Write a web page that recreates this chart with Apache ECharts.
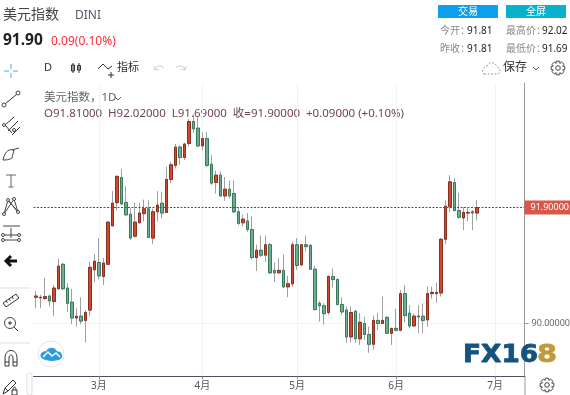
<!DOCTYPE html>
<html><head><meta charset="utf-8">
<style>html,body{margin:0;padding:0;background:#fff}#c{width:570px;height:395px}</style>
<script src="https://cdn.jsdelivr.net/npm/echarts@6/dist/echarts.min.js"></script>
</head><body><div id="c"></div>
<script>
const opens=[90.43,90.42,90.41,90.45,90.36,90.57,90.97,90.58,90.35,90.09,90.12,90.05,90.22,90.88,91.00,90.77,90.97,91.60,91.98,92.39,91.98,91.79,91.43,91.65,91.80,91.88,91.40,91.83,91.97,91.82,92.36,92.59,92.89,92.72,92.95,93.31,93.20,92.91,93.03,92.61,92.31,92.43,92.09,92.20,92.13,91.83,91.65,91.68,91.54,91.08,91.20,91.12,91.29,90.87,90.83,90.87,90.60,90.65,91.29,90.96,91.29,91.28,90.89,90.33,90.29,90.18,90.77,90.72,90.31,90.22,89.78,90.20,89.75,90.00,89.82,89.66,90.05,90.00,90.10,89.84,89.92,89.89,90.49,90.17,89.96,90.11,90.12,90.06,90.49,90.49,90.50,91.38,91.92,92.31,91.85,91.73,91.81,91.83,91.81];
const closes=[90.45,90.43,90.44,90.37,90.58,90.94,90.57,90.33,90.09,90.12,90.04,90.18,90.92,91.02,90.78,90.99,91.66,91.97,92.41,91.96,91.78,91.40,91.66,91.81,91.88,91.41,91.83,91.94,91.81,92.36,92.60,92.89,92.72,92.94,93.31,93.19,92.91,93.03,92.59,92.30,92.43,92.09,92.20,92.09,91.83,91.64,91.71,91.54,91.08,91.20,91.12,91.29,90.83,90.83,90.87,90.60,90.65,91.29,90.95,91.29,91.26,90.89,90.23,90.29,90.16,90.77,90.72,90.31,90.19,89.78,90.18,89.75,90.02,89.82,89.66,90.05,90.00,90.05,89.84,89.92,89.89,90.49,90.13,89.96,90.12,90.12,90.05,90.49,90.51,90.51,91.38,91.92,92.32,91.85,91.74,91.82,91.82,91.81,91.90];
const lows=[90.25,90.25,90.38,90.28,90.12,90.56,90.55,90.19,89.99,89.95,89.99,89.69,90.12,90.68,90.72,90.63,90.96,91.59,91.85,91.94,91.77,91.37,91.41,91.64,91.67,91.40,91.30,91.67,91.72,91.81,92.30,92.54,92.60,92.68,92.90,93.12,92.89,92.84,92.56,92.27,92.13,92.08,92.01,92.05,91.81,91.61,91.59,91.50,91.05,90.86,91.09,91.01,90.81,90.68,90.82,90.58,90.43,90.60,90.88,90.94,91.18,90.88,90.21,90.03,89.98,90.14,90.59,90.30,90.14,89.68,89.69,89.68,89.65,89.73,89.52,89.57,89.89,89.99,89.83,89.65,89.87,89.87,90.02,89.92,89.95,89.84,89.84,89.95,90.41,90.34,90.44,91.30,91.83,91.84,91.72,91.53,91.67,91.53,91.69];
const highs=[90.53,90.47,90.75,90.47,90.63,91.06,90.99,90.66,90.57,90.25,90.43,90.22,91.01,91.14,91.40,91.07,91.68,92.17,92.43,92.53,92.25,91.89,91.98,91.98,92.03,92.02,91.88,92.17,92.16,92.57,92.65,92.94,92.92,92.96,93.35,93.42,93.38,93.13,93.14,92.76,92.50,92.49,92.40,92.34,92.34,91.91,91.79,91.81,91.76,91.29,91.44,91.44,91.32,91.00,91.07,91.13,90.78,91.34,91.40,91.30,91.44,91.30,90.95,90.37,90.33,90.79,90.90,90.74,90.43,90.28,90.28,90.22,90.17,90.11,89.95,90.13,90.17,90.44,90.12,89.93,90.24,90.55,90.63,90.30,90.16,90.30,90.33,90.61,90.60,90.67,91.40,92.02,92.43,92.38,92.14,91.91,91.90,91.86,92.02];
const monthLabels=['3月','4月','5月','6月','7月'];
const monthIndex=[14,37,58,80,102];
const slots=109;
const lastPrice=91.9;
const priceTicks=[90];
const categories=Array.from({length:slots},(_,i)=>{const k=monthIndex.indexOf(i);return k>=0?monthLabels[k]:'d'+i;});
const isMonth=i=>monthIndex.indexOf(i)>=0;
const wicks=opens.map((o,i)=>[o,closes[i],lows[i],highs[i]]);
const bodies=opens.map((o,i)=>[o,closes[i],Math.min(o,closes[i]),Math.max(o,closes[i])]);

const FF='"Noto Sans","Noto Sans CJK SC",sans-serif';
const t=(text,x,y,size,fill,weight,align)=>({type:'text',x,y,silent:true,style:{text,fontSize:size,fill,fontWeight:weight||'normal',fontFamily:FF,textVerticalAlign:'middle',textAlign:align||'left'}});
let shapeId=0;
const p=(d,stroke,w,fill,dash)=>{const name='icon'+(shapeId++);echarts.graphic.registerShape(name,echarts.graphic.extendPath(d));
 return {type:name,silent:true,shape:{},style:{stroke:stroke||'#444',lineWidth:w||1,fill:fill||'none',lineDash:dash||null}};};
const r=(x,y,w,h,fill)=>({type:'rect',silent:true,shape:{x,y,width:w,height:h},style:{fill}});
const c=(cx,cy,rr,fill,stroke)=>({type:'circle',silent:true,shape:{cx,cy,r:rr},style:{fill:fill||'none',stroke:stroke||'#444',lineWidth:1}});
const gearAt=(x,y)=>{const o=[];for(let a=0;a<8;a++){const A=a*Math.PI/4,B=A+0.24,C=A-0.24;
 o.push((a?'L':'M')+(x+7*Math.cos(C)).toFixed(1)+' '+(y+7*Math.sin(C)).toFixed(1)+'L'+(x+7*Math.cos(B)).toFixed(1)+' '+(y+7*Math.sin(B)).toFixed(1)+'L'+(x+5*Math.cos(A+0.39)).toFixed(1)+' '+(y+5*Math.sin(A+0.39)).toFixed(1));}
 return [p(o.join('')+'Z','#444',1),c(x,y,2.3)];};
const logo=(text,x,sx,fill)=>({type:'text',x,y:356,scaleX:sx,silent:true,z:20,style:{text,fontSize:24,fontWeight:'bold',fill,stroke:fill,lineWidth:0.8,fontFamily:'"DejaVu Sans",sans-serif',textVerticalAlign:'middle'}});

const graphics=[
 t('美元指数',3,15,14,'#444'),t('DINI',75,16,12,'#556'),
 t('91.90',3,41,15.5,'#222','bold'),t('0.09(0.10%)',51,42,12,'#ff2a3c'),
 r(438,5,60,13,'#0b9fee'),r(506,5,60,13,'#08b2cf'),
 t('交易',468,12,10,'#fff','normal','center'),t('全屏',536,12,10,'#fff','normal','center'),
 t('今开：',440,31,10,'#888'),t('91.81',467,31,10,'#222'),t('最高价：',506,31,10,'#888'),t('92.02',542,31,10,'#222'),
 t('昨收：',440,49,10,'#888'),t('91.81',467,49,10,'#222'),t('最低价：',506,49,10,'#888'),t('91.69',542,49,10,'#222'),
 t('D',44,68,11,'#333'),
 p('M73 63V73M71.5 65H74.5V71H71.5ZM79 63V73M77.5 65.5H80.5V70H77.5Z','#333',1),
 p('M98 69L103 64L108 69L112 66M108 75H114M111 72V78','#333',1),
 t('指标',117,68,11,'#333'),
 p('M155 69C157 65 162 65 164 68M154 66L155 70L159 69','#ccc',1),p('M185 69C183 65 178 65 176 68M186 66L185 70L181 69','#ccc',1),
 p('M484 74H497C501 74 501 68 497 67C496 62 489 61 487 66C483 66 481 73 484 74Z','#999',1,'none',[2,1.5]),
 t('保存',503,68,12,'#333'),p('M533 67L536 70L539 67','#555',1),...gearAt(558,68),
 // toolbar
 p('M11 64V69M11 73V78M4 71H9M13 71H18','#8cc8f0',1.5),
 c(4,105,2,'#fff'),c(18,93,2,'#fff'),p('M5.5 103.5L16.5 94.5','#333',1),
 p('M4 126L14 117M8 131L18 121M12 135L20 127M5 125L12 133','#333',1),c(4,125,1.5,'#fff'),c(14,130,1.5,'#fff'),
 p('M3 160C5 150 10 149 14 150L12 158C9 160 6 160 3 160ZM12 150L19 148','#444',1),
 p('M6 175H16M11 175V187M8.5 187H13.5','#666',1),
 p('M4 214L8 200L18 212L14 199L4 214M8 200L18 212','#444',1),c(4,214,1.5,'#fff'),c(8,200,1.5,'#fff'),c(14,199,1.5,'#fff'),c(18,212,1.5,'#fff'),
 p('M3 226H20M3 235H20M3 240H20M11 228V238','#444',1),c(3,235,1.5,'#fff'),c(19,235,1.5,'#fff'),c(3,240,1.5,'#fff'),c(19,240,1.5,'#fff'),
 p('M17 261H8M11 256L6 261L11 266','#111',3),
 p('M0 288H30M0 343H30','#ddd',1),
 p('M3 303L16 294L19 298L6 307ZM6 301L7.5 303M9 299L10.5 301M12 297L13.5 299','#333',1),
 c(10,323,5.5),p('M14 327L18 331M8 323H12M10 321V325','#333',1),
 p('M5 366V358C5 348 17 348 17 358V366H13V358C13 354 9 354 9 358V366ZM5 362H9M13 362H17','#333',1),
 p('M3 394L5 388L13 380L16 383L8 391ZM5 388L8 391','#333',1),p('M12 390H17V395H12ZM13 390C13 386 16 386 16 390','#333',1),
 {type:'rect',silent:true,shape:{x:27,y:373,width:5,height:22,r:2},style:{fill:'#fff',stroke:'#ddd'}},
 // chart head
 t('美元指数，1D',44,98,11.5,'#666'),p('M115 97L118 100L121 97','#555',1),
 {type:'text',x:44,y:114,silent:true,style:{text:'O91.81000  H92.02000  L91.69000  收=91.90000  +0.09000 (+0.10%)',fontSize:11.5,fill:'#70474a',fontFamily:FF,textVerticalAlign:'middle'}},
 // footer
 p('M525 376V395','#999',1),...gearAt(547,385),
 c(51,354,13,'#fff','#e6e6e6'),
 p('M42 358C39 354 43 351 46 352C48 347 55 347 57 352C62 351 63 357 60 359C55 361 47 361 42 358Z','#2b9be0',1,'#2b9be0'),p('M43 357L48 352L52 356L56 353L60 357','#fff',1.5),
 logo('FX16',463,1.1,'#15527f'),logo('8',537,1.2,'#c19a3e')
];

const chart=echarts.init(document.getElementById('c'));
chart.setOption({
 animation:false,
 textStyle:{fontFamily:FF},
 grid:{left:33.5,top:83,width:491,height:293.3,containLabel:false,outerBoundsMode:'none'},
 xAxis:{type:'category',data:categories,boundaryGap:true,
  axisLine:{lineStyle:{color:'#4a5260',width:1}},
  axisTick:{show:true,alignWithLabel:true,interval:i=>isMonth(i),length:3,lineStyle:{color:'#888'}},
  axisLabel:{interval:i=>isMonth(i),color:'#555',fontSize:10,margin:5},
  splitLine:{show:true,alignWithLabel:true,interval:i=>isMonth(i),lineStyle:{color:'#edf3f8',width:1}}},
 yAxis:{type:'value',position:'right',min:89.135,max:93.94,scale:true,
  axisLine:{show:true,lineStyle:{color:'#999'}},
  axisTick:{show:true,length:4,lineStyle:{color:'#999'},customValues:priceTicks},
  axisLabel:{color:'#666',fontSize:9,margin:7,customValues:priceTicks,formatter:v=>v.toFixed(5)},
  splitLine:{show:true,lineStyle:{color:'#edf3f8'}}},
 series:[
  {type:'candlestick',data:wicks,barWidth:3,z:2,
   itemStyle:{color:'#9a9a9a',color0:'#9a9a9a',borderColor:'#a0a0a0',borderColor0:'#a0a0a0',borderWidth:1},
   markLine:{silent:true,symbol:'none',animation:false,
    lineStyle:{color:'#b8281a',type:[2,1.5],width:1},
    label:{position:'end',formatter:()=>lastPrice.toFixed(5),color:'#fff',backgroundColor:'#d9574a',fontSize:9,padding:[2.5,4,2.5,6],distance:0},
    data:[{yAxis:lastPrice}]}},
  {type:'candlestick',data:bodies,barWidth:3,z:4,
   itemStyle:{color:'#d2472f',color0:'#6fae90',borderColor:'#8a3020',borderColor0:'#3a7a5c',borderWidth:1}}
 ],
 graphic:{elements:graphics}
});
</script></body></html>
